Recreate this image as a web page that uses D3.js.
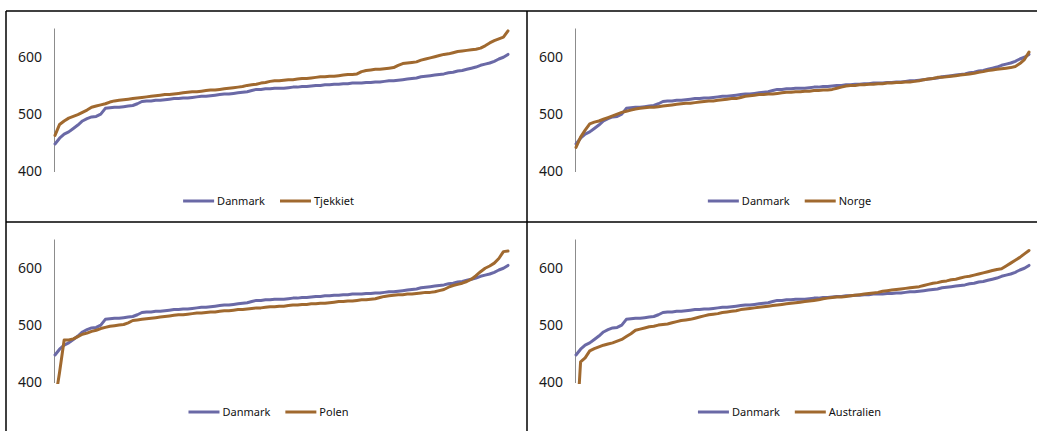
<!DOCTYPE html>
<html>
<head>
<meta charset="utf-8">
<script src="https://cdn.jsdelivr.net/npm/d3@7"></script>
<style>
  body { margin: 0; background: #fff; }
  svg { display: block; font-family: "Noto Sans", sans-serif; }
</style>
</head>
<body>
<div id="chart"></div>
<script>
// rank 1..100
const rank = d3.range(1, 101);
const yTicks = [400, 500, 600];

const danmark = [448,458,465,469,475,481,488,492,495,496,500,510,511,512,512,513,514,515,518,522,
  523,523,524,524,525,526,527,527,528,528,529,530,531,531,532,533,534,535,535,536,
  537,538,539,541,543,543,544,544,545,545,545,546,547,547,548,548,549,550,550,551,
  551,552,552,553,553,554,554,554,555,555,556,556,557,558,558,559,560,561,562,563,
  565,566,567,568,569,570,572,573,575,576,578,580,582,585,587,589,592,596,599,604];

const tjekkiet = [463,482,488,493,496,499,503,507,512,514,516,518,521,523,524,525,526,527,528,529,
  530,531,532,533,534,534,535,536,537,538,539,539,540,541,542,542,543,544,545,546,
  547,548,550,551,552,554,555,557,558,558,559,560,560,561,562,562,563,564,565,565,
  566,566,567,568,569,569,570,574,576,577,578,578,579,580,581,585,588,589,590,591,
  594,596,598,600,602,604,605,607,609,610,611,612,613,615,619,624,628,631,634,645];

const norge = [442,460,472,483,486,488,491,494,497,500,503,505,507,509,510,511,512,512,513,514,
  515,516,517,518,519,519,520,521,522,523,523,524,525,526,527,527,529,531,532,533,
  534,534,535,535,536,537,538,538,539,539,540,540,541,541,542,542,543,545,547,549,
  550,550,551,551,552,552,553,553,554,554,555,555,556,556,557,558,560,561,562,564,
  564,565,566,567,568,569,570,571,573,574,576,577,578,579,580,581,583,588,595,608];

const polen = [367,418,474,474,476,480,484,486,489,491,494,496,498,499,500,501,504,508,509,510,
  511,512,513,514,515,516,517,518,518,519,520,521,521,522,523,523,524,525,525,526,
  527,527,528,529,530,530,531,532,532,533,533,534,535,535,536,536,537,537,538,538,
  539,540,541,541,542,542,543,544,544,545,546,548,550,551,552,553,553,554,554,555,
  556,557,557,558,560,562,566,569,571,573,576,580,586,593,599,603,608,616,628,629];

const australien = [300,436,443,455,459,462,465,467,469,472,475,480,485,491,493,495,497,498,500,501,
  502,504,506,508,509,510,512,514,516,518,519,520,522,523,524,525,527,528,529,530,
  531,532,533,534,535,536,537,538,539,540,541,542,543,544,546,547,548,549,549,550,
  551,552,553,554,555,556,557,559,560,561,562,563,564,565,566,567,569,571,573,574,
  576,577,579,580,582,584,585,587,589,591,593,595,597,598,603,608,613,618,624,630];

const panels = [
  { name: "Tjekkiet", values: tjekkiet, ox: 6, oy: 11 },
  { name: "Norge", values: norge, ox: 527, oy: 11 },
  { name: "Polen", values: polen, ox: 6, oy: 222 },
  { name: "Australien", values: australien, ox: 527, oy: 222 }
];

const width = 1037, height = 431;
const pw = 521, ph = 211;
const blue = "#6a69a6", brown = "#a0692f";

const x = d3.scaleLinear()
  .domain(d3.extent(rank))
  .range([49, 502]);
const y = d3.scaleLinear()
  .domain([400, 650])
  .range([160.5, 17]);

const svg = d3.select("#chart")
  .append("svg")
  .attr("width", width)
  .attr("height", height);

svg.append("defs").append("clipPath")
  .attr("id", "plotclip")
  .append("rect")
  .attr("x", 40).attr("y", 10)
  .attr("width", 470).attr("height", 152);

const line = d3.line()
  .x((d, i) => x(rank[i]))
  .y(d => y(d));

panels.forEach(p => {
  const g = svg.append("g").attr("transform", `translate(${p.ox},${p.oy})`);

  g.append("g")
    .attr("transform", "translate(48,0)")
    .call(d3.axisLeft(y).tickValues(yTicks).tickSize(0).tickSizeOuter(0).tickPadding(12))
    .call(a => a.select(".domain").attr("stroke", "#8c8c8c"))
    .call(a => a.selectAll("text")
      .attr("font-family", "Noto Sans")
      .attr("font-size", 14)
      .attr("fill", "#1a1a1a"));

  const lines = g.append("g").attr("clip-path", "url(#plotclip)")
    .attr("fill", "none")
    .attr("stroke-width", 3)
    .attr("stroke-linejoin", "round")
    .attr("stroke-linecap", "round");
  lines.append("path").attr("d", line(danmark)).attr("stroke", blue);
  lines.append("path").attr("d", line(p.values)).attr("stroke", brown);

  // legend, centred in the panel
  const items = [{ name: "Danmark", color: blue }, { name: p.name, color: brown }];
  const lg = g.append("g").attr("transform", `translate(0,190)`);
  let cx = 0;
  const parts = items.map(it => {
    const ig = lg.append("g").attr("transform", `translate(${cx},0)`);
    ig.append("line").attr("x1", 0).attr("x2", 31).attr("y1", 0).attr("y2", 0)
      .attr("stroke", it.color).attr("stroke-width", 3);
    const t = ig.append("text").attr("x", 34).attr("y", 4)
      .attr("font-size", 11).attr("fill", "#111").text(it.name);
    cx += 34 + t.node().getComputedTextLength() + 15;
    return ig;
  });
  const total = cx - 15;
  lg.attr("transform", `translate(${(pw - total) / 2 + 2},190)`);
});

// panel frames
const frame = svg.append("g").attr("stroke", "#000").attr("stroke-width", 1.5);
[11, 222].forEach(yy => frame.append("line").attr("x1", 6).attr("x2", width).attr("y1", yy).attr("y2", yy));
[6, 527].forEach(xx => frame.append("line").attr("x1", xx).attr("x2", xx).attr("y1", 11).attr("y2", height));
</script>
</body>
</html>
